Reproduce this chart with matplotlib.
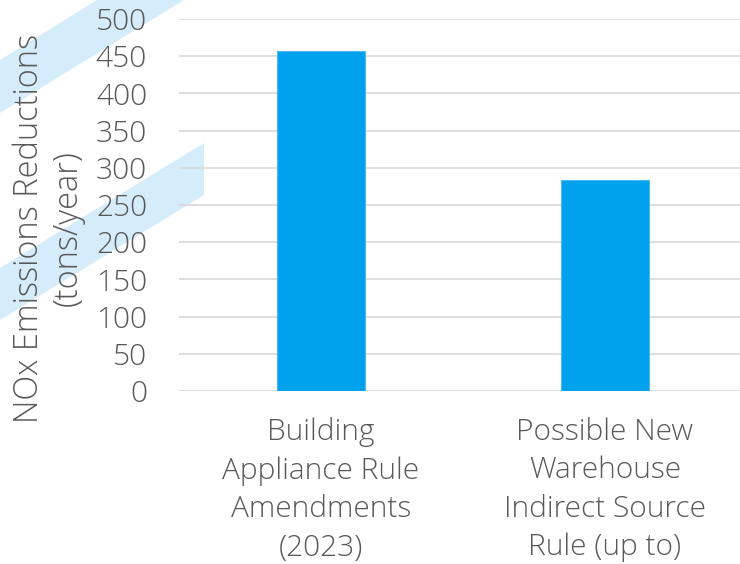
import matplotlib.pyplot as plt
from matplotlib.patches import Polygon

categories = [
    "Building\nAppliance Rule\nAmendments\n(2023)",
    "Possible New\nWarehouse\nIndirect Source\nRule (up to)",
]
reductions = [457, 283]
y_ticks = [0, 50, 100, 150, 200, 250, 300, 350, 400, 450, 500]
y_label = "NOx Emissions Reductions\n(tons/year)"

text_color = "#595959"
bar_color = "#00A2ED"
grid_color = "#D9D9D9"
stripe_color = "#D5ECFA"

plt.rcParams["font.family"] = ["Open Sans", "DejaVu Sans"]
fs = 21.5
weight = 300

fig = plt.figure(figsize=(7.4, 5.64), dpi=100)

# decorative diagonal stripes behind the chart (figure pixel coords)
bg = fig.add_axes([0, 0, 1, 1], zorder=0)
bg.set_xlim(0, 740)
bg.set_ylim(564, 0)
bg.axis("off")
bg.add_patch(Polygon([(0, 60), (97, 0), (184, 0), (0, 113)], closed=True,
                     facecolor=stripe_color, edgecolor="none"))
bg.add_patch(Polygon([(0, 268), (204, 143), (204, 195), (0, 320)], closed=True,
                     facecolor=stripe_color, edgecolor="none"))

ax = fig.add_axes([179 / 740, 1 - 391 / 564, 561 / 740, 372 / 564], zorder=1)
ax.patch.set_alpha(0)

x = list(range(len(categories)))
ax.bar(x, reductions, width=0.31, color=bar_color, edgecolor="#4DBBF0",
       linewidth=0.8, zorder=3)

ax.set_xlim(-0.5, 1.5 - 7 / 284)
ax.set_ylim(0, 500)
ax.set_yticks(y_ticks)
ax.set_xticks(x)
ax.set_xticklabels(categories, fontsize=fs, color=text_color, fontweight=weight,
                   linespacing=1.4)
ax.tick_params(axis="y", labelsize=fs, labelcolor=text_color, length=0, pad=23)
ax.tick_params(axis="x", length=0, pad=19)
for lbl in ax.get_yticklabels():
    lbl.set_fontweight(weight)

ax.grid(axis="y", color=grid_color, linewidth=1.2, zorder=0)
ax.set_axisbelow(True)
for s in ax.spines.values():
    s.set_visible(False)

fig.text(49 / 740, 1 - 228 / 564, y_label, rotation=90, ha="center", va="center",
         fontsize=23.5, color=text_color, fontweight=weight, linespacing=1.2,
         multialignment="center")

fig.savefig("out.png", dpi=100)
